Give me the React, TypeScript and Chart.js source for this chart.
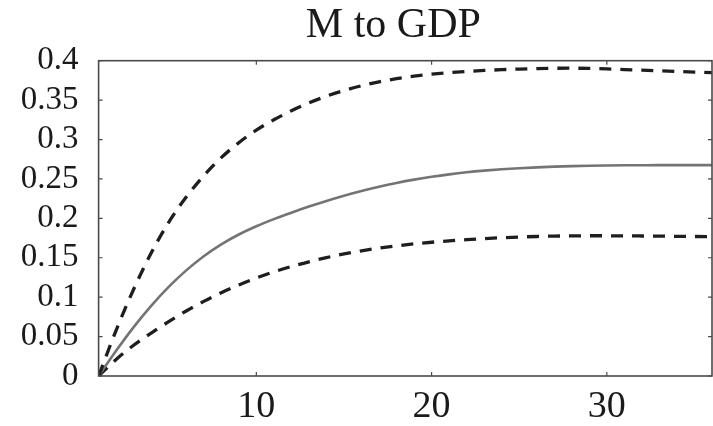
import React, { useEffect, useRef } from "react";
import { Chart, registerables } from "chart.js";

Chart.register(...registerables);

const TITLE = "M to GDP";

const quarters = [
  1, 2, 3, 4, 5, 6, 7, 8, 9, 10, 11, 12, 13, 14, 15, 16, 17, 18,
  19, 20, 21, 22, 23, 24, 25, 26, 27, 28, 29, 30, 31, 32, 33, 34, 35, 36,
];

const median = [
  0, 0.032, 0.062, 0.089, 0.113, 0.134, 0.152, 0.167, 0.1795, 0.19, 0.199, 0.2072,
  0.2149, 0.2221, 0.2287, 0.2347, 0.2401, 0.2449, 0.2491, 0.2527, 0.2558, 0.2584, 0.2605, 0.2622,
  0.2636, 0.2647, 0.2656, 0.2663, 0.2668, 0.2671, 0.2673, 0.2674, 0.2675, 0.2675, 0.2675, 0.2675,
];

const upper = [
  0, 0.058, 0.11, 0.156, 0.195, 0.227, 0.254, 0.277, 0.296, 0.312, 0.325, 0.3365,
  0.3465, 0.355, 0.3622, 0.3682, 0.3732, 0.3772, 0.3804, 0.3829, 0.3849, 0.3864, 0.3876, 0.3886,
  0.3894, 0.39, 0.3904, 0.3905, 0.3902, 0.3896, 0.3888, 0.388, 0.3872, 0.3864, 0.3856, 0.3848,
];

const lower = [
  0, 0.021, 0.039, 0.0545, 0.069, 0.0825, 0.0947, 0.1057, 0.1155, 0.1243, 0.1321, 0.1389,
  0.1449, 0.1502, 0.1548, 0.1588, 0.1622, 0.1651, 0.1676, 0.1697, 0.1715, 0.173, 0.1743, 0.1754,
  0.1763, 0.177, 0.1775, 0.1778, 0.1779, 0.1779, 0.1778, 0.1776, 0.1774, 0.1772, 0.177, 0.1768,
];

const xTicks = [10, 20, 30];
const yMin = 0;
const yMax = 0.4;
const yStep = 0.05;

const FONT = "'Liberation Serif', 'Times New Roman', serif";

const framePlugin = {
  id: "frame",
  beforeDraw(chart: any) {
    const tb = chart.titleBlock;
    const a = chart.chartArea;
    if (tb && a) {
      tb.left = a.left - 24;
      tb.right = a.right;
    }
  },
  afterDatasetsDraw(chart: any) {
    const { ctx, chartArea: a, scales } = chart;
    ctx.save();
    ctx.strokeStyle = "#4a4a4a";
    ctx.lineWidth = 1.6;
    ctx.strokeRect(a.left, a.top, a.right - a.left, a.bottom - a.top);
    const tl = 4;
    ctx.lineWidth = 1.2;
    ctx.beginPath();
    scales.y.ticks.forEach((t: any) => {
      const y = scales.y.getPixelForValue(t.value);
      ctx.moveTo(a.left, y);
      ctx.lineTo(a.left + tl, y);
      ctx.moveTo(a.right, y);
      ctx.lineTo(a.right - tl, y);
    });
    scales.x.ticks.forEach((t: any) => {
      const x = scales.x.getPixelForValue(t.value);
      ctx.moveTo(x, a.bottom);
      ctx.lineTo(x, a.bottom - tl);
      ctx.moveTo(x, a.top);
      ctx.lineTo(x, a.top + tl);
    });
    ctx.stroke();
    ctx.restore();
  },
};

export default function App() {
  const canvasRef = useRef<HTMLCanvasElement | null>(null);

  useEffect(() => {
    if (!canvasRef.current) return;
    const toXY = (arr: number[]) => arr.map((v, i) => ({ x: quarters[i], y: v }));
    const dashed = {
      borderColor: "#1e1e1e",
      borderWidth: 3.3,
      borderDash: [12, 9],
      pointRadius: 0,
      cubicInterpolationMode: "monotone" as const,
      fill: false,
    };
    const chart = new Chart(canvasRef.current, {
      type: "line",
      data: {
        datasets: [
          { label: "upper", data: toXY(upper), ...dashed },
          {
            label: "median",
            data: toXY(median),
            borderColor: "#747474",
            borderWidth: 2.6,
            pointRadius: 0,
            cubicInterpolationMode: "monotone",
            fill: false,
          },
          { label: "lower", data: toXY(lower), ...dashed },
        ],
      },
      options: {
        animation: false,
        responsive: true,
        maintainAspectRatio: false,
        layout: { padding: { left: 0, right: 1, top: 0, bottom: 0 } },
        plugins: {
          legend: { display: false },
          tooltip: { enabled: false },
          title: {
            display: true,
            text: TITLE,
            fullSize: false,
            color: "#1a1a1a",
            font: { family: FONT, size: 42, weight: "normal", lineHeight: 1.2 },
            padding: { top: 1, bottom: 9.3 },
          },
        },
        scales: {
          x: {
            type: "linear",
            min: 1,
            max: 36,
            afterBuildTicks: (scale: any) => {
              scale.ticks = xTicks.map((v) => ({ value: v }));
            },
            afterFit: (scale: any) => {
              scale.height = 50;
            },
            grid: { display: false, drawTicks: false },
            border: { display: false },
            ticks: {
              color: "#1a1a1a",
              font: { family: FONT, size: 38 },
              padding: 8,
              maxRotation: 0,
              autoSkip: false,
            },
          },
          y: {
            type: "linear",
            min: yMin,
            max: yMax,
            afterFit: (scale: any) => {
              scale.width = 98.6;
            },
            grid: { display: false, drawTicks: false },
            border: { display: false },
            ticks: {
              stepSize: yStep,
              color: "#1a1a1a",
              font: { family: FONT, size: 33 },
              padding: 20,
              autoSkip: false,
              callback: (v: any) => String(Number(Number(v).toFixed(2))),
            },
          },
        },
      },
      plugins: [framePlugin],
    });
    return () => chart.destroy();
  }, []);

  return (
    <div style={{ position: "fixed", left: 0, top: 0, width: 713, height: 426, background: "#fff" }}>
      <canvas ref={canvasRef} />
    </div>
  );
}
